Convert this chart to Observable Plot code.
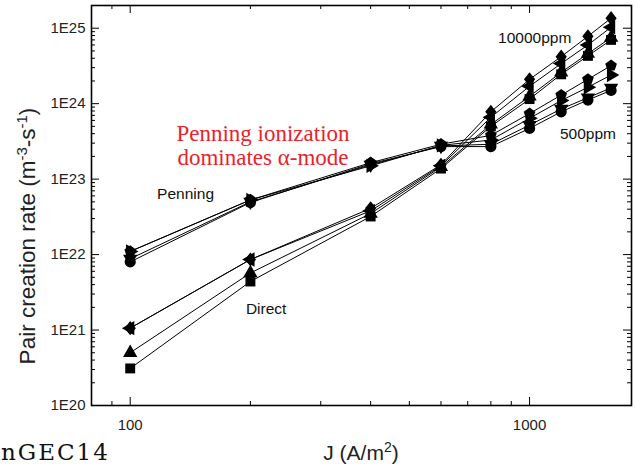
<!DOCTYPE html>
<html>
<head>
<meta charset="utf-8">
<script src="https://cdn.jsdelivr.net/npm/d3@7"></script>
<script src="https://cdn.jsdelivr.net/npm/@observablehq/plot@0.6"></script>
<style>
  html, body { margin: 0; padding: 0; background: #fff; }
  #chart svg { display: block; }
</style>
</head>
<body>
<div id="chart"></div>
<script>
// ---- data ----
const J = [100, 200, 400, 600, 800, 1000, 1200, 1400, 1600];

// Penning ionization series
const penningPentagon = [1.10e22, 5.3e22, 1.65e23, 2.90e23, 3.8e23, 7.4e23, 1.30e24, 2.10e24, 3.2e24];
const penningRight    = [1.10e22, 5.3e22, 1.50e23, 2.80e23, 3.3e23, 6.4e23, 1.10e24, 1.65e24, 2.4e24];
const penningDown     = [8.8e21,  5.0e22, 1.55e23, 2.75e23, 2.9e23, 5.2e23, 8.5e23,  1.20e24, 1.62e24];
const penningCircle   = [8.0e21,  4.9e22, 1.60e23, 2.70e23, 2.7e23, 4.7e23, 7.8e23,  1.12e24, 1.50e24];

// Direct ionization series
const directDiamond = [1.06e21, 8.6e21, 4.1e22, 1.55e23, 7.8e23, 2.10e24, 4.2e24, 7.8e24, 1.36e25];
const directLeft    = [1.06e21, 8.6e21, 3.8e22, 1.50e23, 6.6e23, 1.70e24, 3.4e24, 6.0e24, 1.03e25];
const directUp      = [5.0e20,  5.7e21, 3.5e22, 1.45e23, 5.3e23, 1.25e24, 2.6e24, 4.6e24, 7.5e24];
const directSquare  = [3.1e20,  4.4e21, 3.2e22, 1.38e23, 5.0e23, 1.15e24, 2.45e24, 4.3e24, 7.0e24];

const yTickValues = [1e20, 1e21, 1e22, 1e23, 1e24, 1e25];
const yTickLabels = ["1E20", "1E21", "1E22", "1E23", "1E24", "1E25"];
const xTickValues = [100, 1000];
const xTickLabels = ["100", "1000"];

// ---- custom marker shapes ----
function triangle(angle) {
  return {
    draw(ctx, size) {
      const r = Math.sqrt(size / (3 * Math.sqrt(3) / 4)) * 0.95;
      for (let i = 0; i < 3; i++) {
        const a = angle + i * 2 * Math.PI / 3;
        const x = r * Math.cos(a), y = r * Math.sin(a);
        if (i === 0) ctx.moveTo(x, y); else ctx.lineTo(x, y);
      }
      ctx.closePath();
    }
  };
}
const pentagon = {
  draw(ctx, size) {
    const r = Math.sqrt(size / 2.378) * 0.95;
    for (let i = 0; i < 5; i++) {
      const a = -Math.PI / 2 + i * 2 * Math.PI / 5;
      const x = r * Math.cos(a), y = r * Math.sin(a);
      if (i === 0) ctx.moveTo(x, y); else ctx.lineTo(x, y);
    }
    ctx.closePath();
  }
};
const diamond = {
  draw(ctx, size) {
    const r = Math.sqrt(size / 2);
    ctx.moveTo(0, -r); ctx.lineTo(r * 0.8, 0); ctx.lineTo(0, r); ctx.lineTo(-r * 0.8, 0); ctx.closePath();
  }
};

const series = [
  {name: "P pentagon", values: penningPentagon, symbol: pentagon},
  {name: "P right", values: penningRight, symbol: triangle(0)},
  {name: "P down", values: penningDown, symbol: triangle(Math.PI / 2)},
  {name: "P circle", values: penningCircle, symbol: "circle"},
  {name: "D diamond", values: directDiamond, symbol: diamond},
  {name: "D left", values: directLeft, symbol: triangle(Math.PI)},
  {name: "D up", values: directUp, symbol: triangle(-Math.PI / 2)},
  {name: "D square", values: directSquare, symbol: "square"}
];

const W = 635, H = 466;
const mL = 91, mR = 4, mT = 5, mB = 61;
const pw = W - mL - mR, ph = H - mT - mB;

// minor ticks
const yMinor = [];
for (let e = 20; e < 25; e++) for (let k = 2; k <= 9; k++) yMinor.push(k * Math.pow(10, e));
const xMinor = [90, 200, 300, 400, 500, 600, 700, 800, 900];
const yMajor = [1e21, 1e22, 1e23, 1e24, 1e25];

const marks = [];
const major = 8, minor = 4;
marks.push(Plot.tickY(yMajor, {y: d => d, insetRight: pw - major, stroke: "black", strokeWidth: 1}));
marks.push(Plot.tickY(yMajor, {y: d => d, insetLeft: pw - major, stroke: "black", strokeWidth: 1}));
marks.push(Plot.tickY(yMinor, {y: d => d, insetRight: pw - minor, stroke: "black", strokeWidth: 1}));
marks.push(Plot.tickY(yMinor, {y: d => d, insetLeft: pw - minor, stroke: "black", strokeWidth: 1}));
marks.push(Plot.tickX(xTickValues, {x: d => d, insetTop: ph - major, stroke: "black", strokeWidth: 1}));
marks.push(Plot.tickX(xTickValues, {x: d => d, insetBottom: ph - major, stroke: "black", strokeWidth: 1}));
marks.push(Plot.tickX(xMinor, {x: d => d, insetTop: ph - minor, stroke: "black", strokeWidth: 1}));
marks.push(Plot.tickX(xMinor, {x: d => d, insetBottom: ph - minor, stroke: "black", strokeWidth: 1}));

// tick labels
marks.push(Plot.text(yTickValues, {y: d => d, text: (d, i) => yTickLabels[i], frameAnchor: "left", textAnchor: "end", dx: -6, fontSize: 15, fill: "#222"}));
marks.push(Plot.text(xTickValues, {x: d => d, text: (d, i) => xTickLabels[i], frameAnchor: "bottom", dy: 24, fontSize: 15, fill: "#222"}));

// series
for (const s of series) {
  const data = J.map((x, i) => ({x, y: s.values[i]}));
  marks.push(Plot.line(data, {x: "x", y: "y", stroke: "black", strokeWidth: 1}));
}
for (const s of series) {
  const data = J.map((x, i) => ({x, y: s.values[i]}));
  marks.push(Plot.dot(data, {x: "x", y: "y", symbol: s.symbol, r: 5.6, fill: "black", stroke: "none"}));
}

// annotations
marks.push(Plot.text([{t: "Penning"}], {x: () => 137.6, y: () => 6.4e22, text: "t", fontSize: 15.5, fill: "#111"}));
marks.push(Plot.text([{t: "Direct"}], {x: () => 219, y: () => 1.9e21, text: "t", fontSize: 15.5, fill: "#111"}));
marks.push(Plot.text([{t: "10000ppm"}], {x: () => 1030, y: () => 7.4e24, text: "t", fontSize: 15.5, fill: "#111"}));
marks.push(Plot.text([{t: "500ppm"}], {x: () => 1400, y: () => 3.9e23, text: "t", fontSize: 15.5, fill: "#111"}));
marks.push(Plot.text([{t: "Penning ionization"}], {x: () => 215, y: () => 3.95e23, text: "t", fontSize: 23, fill: "#e8232b", fontFamily: "Liberation Serif, Times New Roman, serif"}));
marks.push(Plot.text([{t: "dominates α-mode"}], {x: () => 215, y: () => 1.95e23, text: "t", fontSize: 23, fill: "#e8232b", fontFamily: "Liberation Serif, Times New Roman, serif"}));

marks.push(Plot.frame({stroke: "black", strokeWidth: 1.6}));

const chart = Plot.plot({
  width: W,
  height: H,
  marginLeft: mL,
  marginRight: mR,
  marginTop: mT,
  marginBottom: mB,
  style: {fontFamily: "Liberation Sans, Arial, Helvetica, sans-serif", background: "white"},
  x: {type: "log", domain: [80, 1800], axis: null},
  y: {type: "log", domain: [1e20, 2e25], axis: null},
  marks
});
document.getElementById("chart").appendChild(chart);

// axis titles with superscripts, and the corner caption
const svg = d3.select(chart);
const yl = svg.append("text")
  .attr("transform", "translate(35,236) rotate(-90)")
  .attr("text-anchor", "middle")
  .attr("font-size", 22.5)
  .attr("fill", "#222")
  .attr("font-family", "Liberation Sans, Arial, sans-serif");
yl.append("tspan").text("Pair creation rate (m");
yl.append("tspan").attr("dy", -8).attr("font-size", 15).text("-3");
yl.append("tspan").attr("dy", 8).text("-s");
yl.append("tspan").attr("dy", -8).attr("font-size", 15).text("-1");
yl.append("tspan").attr("dy", 8).text(")");

const xl = svg.append("text")
  .attr("x", 361).attr("y", 460)
  .attr("text-anchor", "middle")
  .attr("font-size", 21)
  .attr("fill", "#222")
  .attr("font-family", "Liberation Sans, Arial, sans-serif");
xl.append("tspan").text("J (A/m");
xl.append("tspan").attr("dy", -8).attr("font-size", 14).text("2");
xl.append("tspan").attr("dy", 8).text(")");

svg.append("text")
  .attr("x", 1).attr("y", 460)
  .attr("text-anchor", "start")
  .attr("font-size", 23)
  .attr("letter-spacing", 2)
  .attr("fill", "#111")
  .attr("font-family", "DejaVu Serif, Liberation Serif, serif")
  .text("nGEC14");
</script>
</body>
</html>
